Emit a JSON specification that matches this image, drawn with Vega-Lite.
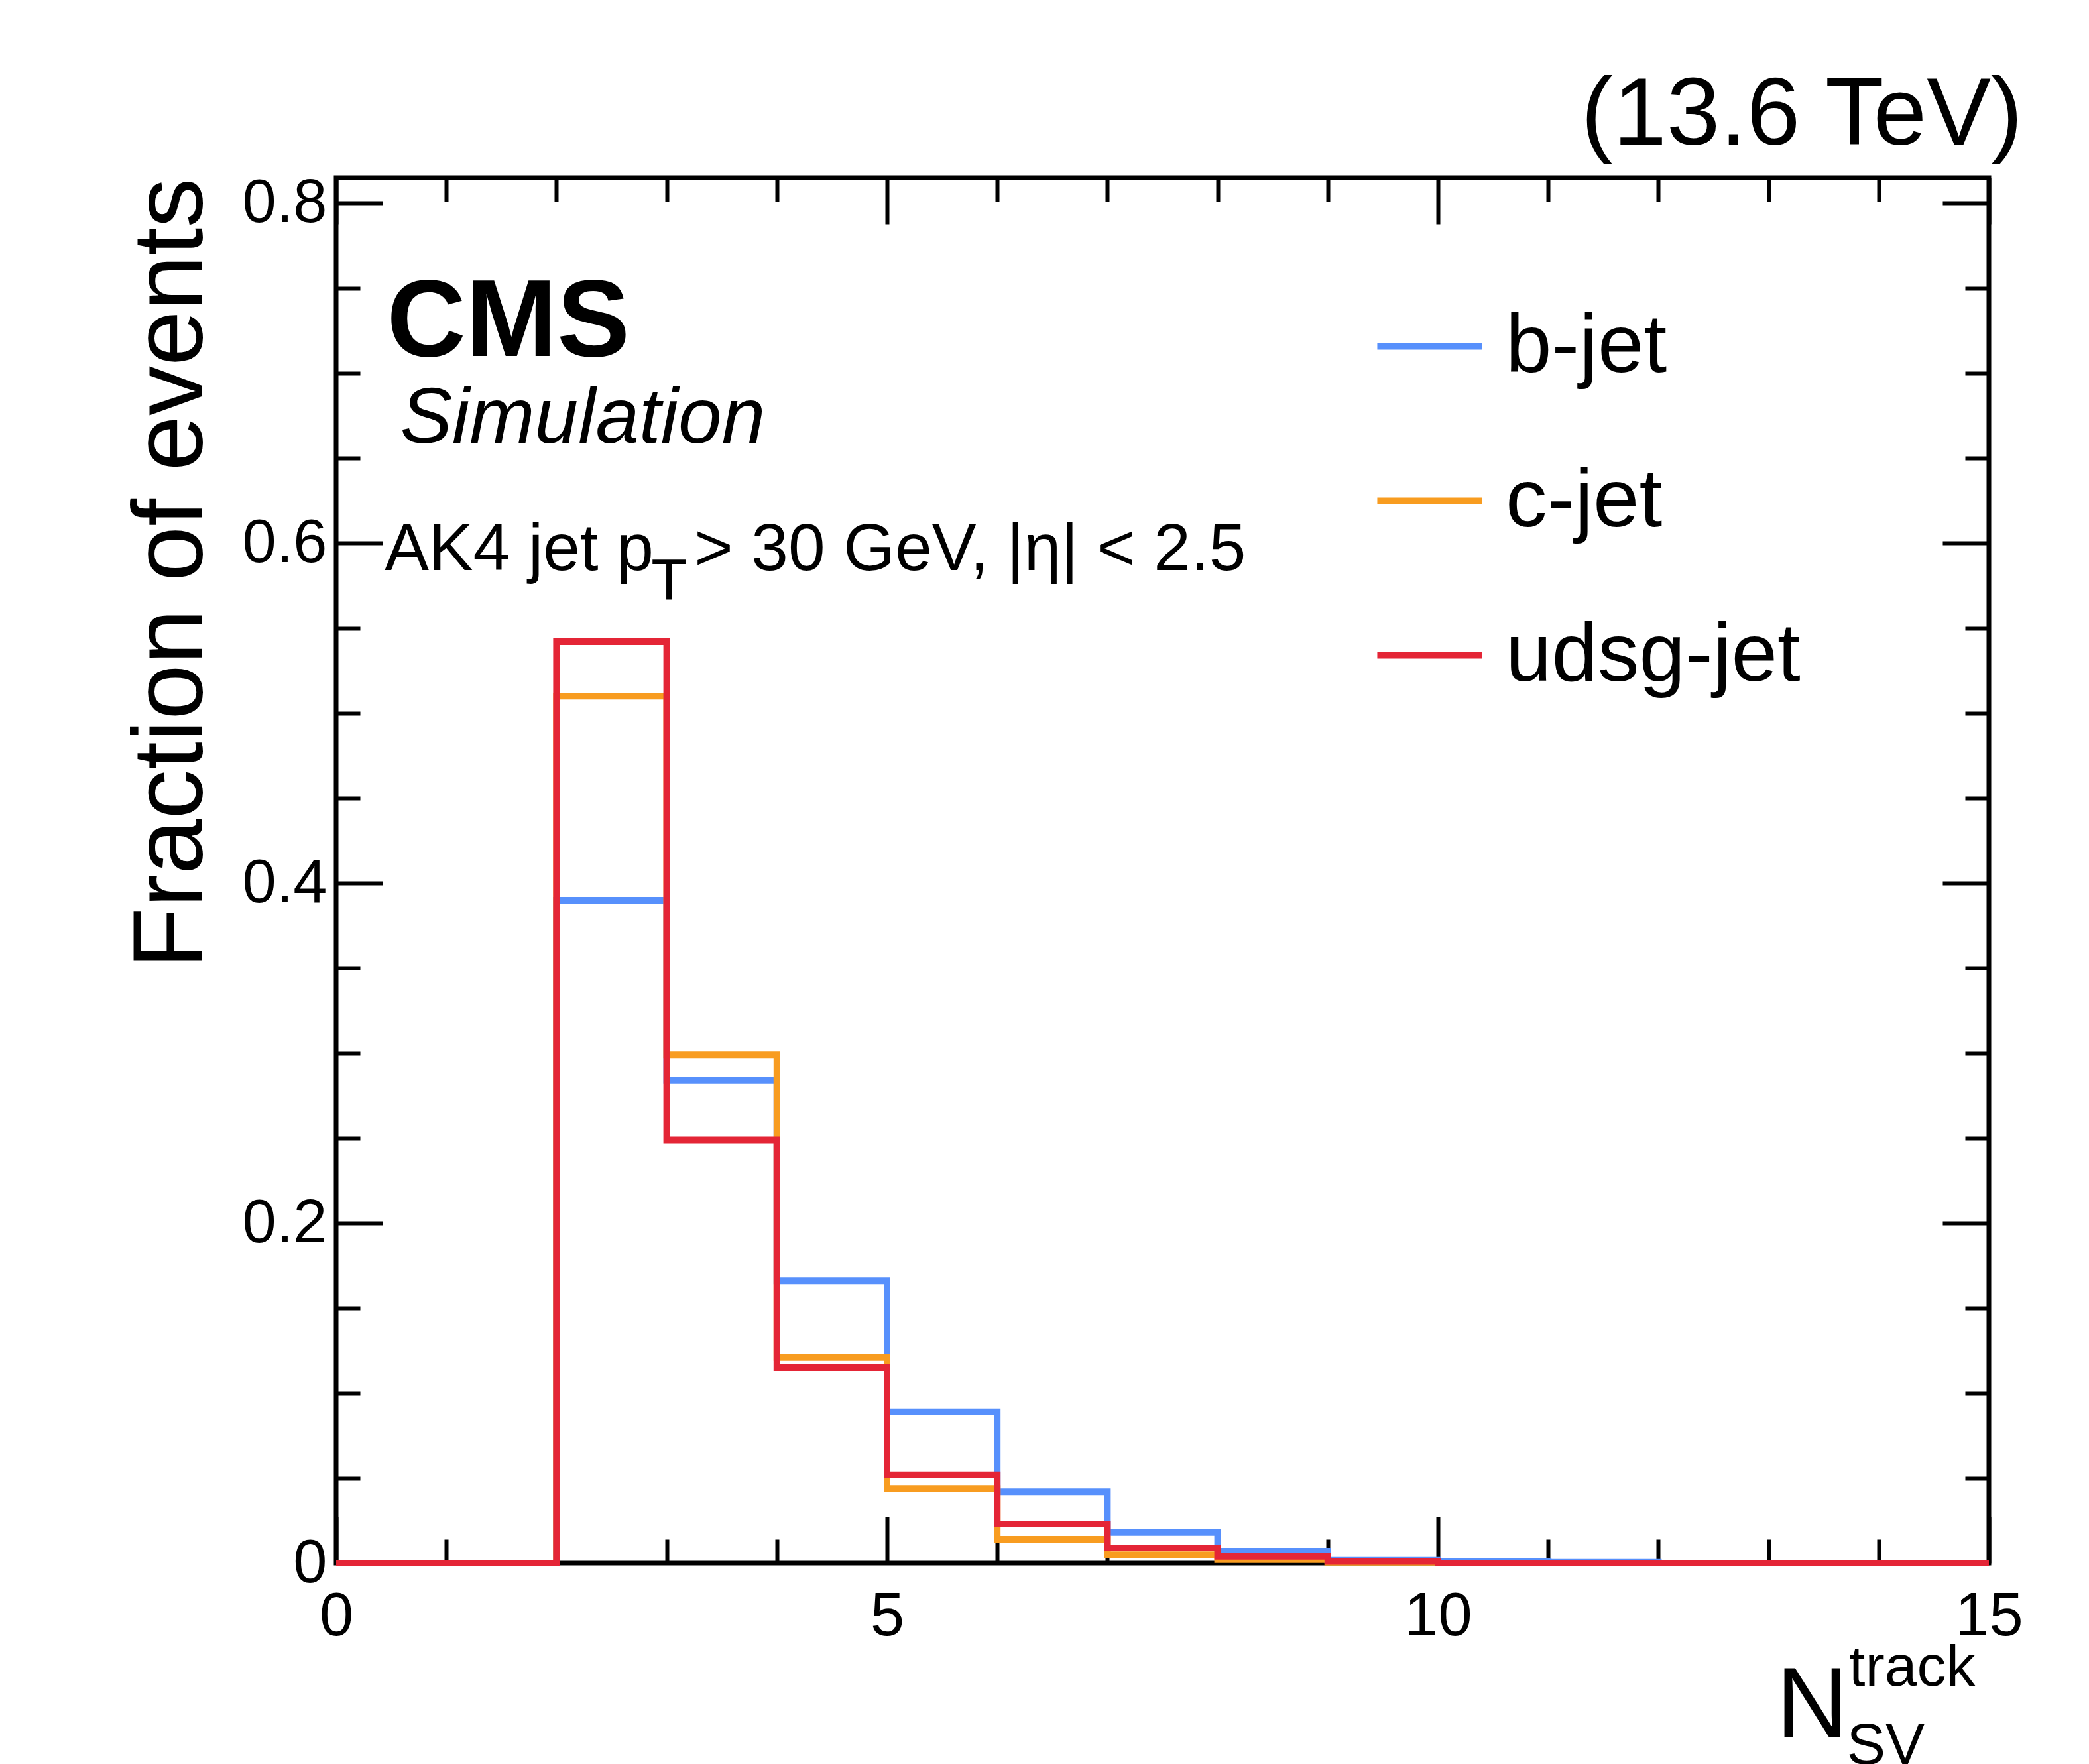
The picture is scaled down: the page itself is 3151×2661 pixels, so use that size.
{
  "$schema": "https://vega.github.io/schema/vega-lite/v6.json",
  "width": 2493,
  "height": 2090,
  "autosize": {"type": "none"},
  "padding": {"left": 507, "top": 268, "right": 151, "bottom": 303},
  "background": "white",
  "config": {
    "font": "Liberation Sans",
    "view": {"stroke": "black", "strokeWidth": 7},
    "axis": {"grid": false, "domain": false, "tickColor": "black", "tickWidth": 6, "labelColor": "black", "labelFont": "Liberation Sans", "labelFontSize": 92, "titleColor": "black"}
  },
  "title": {"text": "(13.6 TeV)", "anchor": "end", "fontSize": 145, "fontWeight": "normal", "font": "Liberation Sans", "offset": 12},
  "datasets": {
    "hist": [
      {"series": "b-jet", "x": 0, "y": 0}, {"series": "b-jet", "x": 1, "y": 0}, {"series": "b-jet", "x": 2, "y": 0.39},
      {"series": "b-jet", "x": 3, "y": 0.284}, {"series": "b-jet", "x": 4, "y": 0.166}, {"series": "b-jet", "x": 5, "y": 0.089},
      {"series": "b-jet", "x": 6, "y": 0.042}, {"series": "b-jet", "x": 7, "y": 0.018}, {"series": "b-jet", "x": 8, "y": 0.007},
      {"series": "b-jet", "x": 9, "y": 0.002}, {"series": "b-jet", "x": 10, "y": 0.001}, {"series": "b-jet", "x": 11, "y": 0.0005},
      {"series": "b-jet", "x": 12, "y": 0}, {"series": "b-jet", "x": 13, "y": 0}, {"series": "b-jet", "x": 14, "y": 0}, {"series": "b-jet", "x": 15, "y": 0},
      {"series": "c-jet", "x": 0, "y": 0}, {"series": "c-jet", "x": 1, "y": 0}, {"series": "c-jet", "x": 2, "y": 0.51},
      {"series": "c-jet", "x": 3, "y": 0.299}, {"series": "c-jet", "x": 4, "y": 0.121}, {"series": "c-jet", "x": 5, "y": 0.044},
      {"series": "c-jet", "x": 6, "y": 0.014}, {"series": "c-jet", "x": 7, "y": 0.005}, {"series": "c-jet", "x": 8, "y": 0.002},
      {"series": "c-jet", "x": 9, "y": 0.0005}, {"series": "c-jet", "x": 10, "y": 0}, {"series": "c-jet", "x": 11, "y": 0},
      {"series": "c-jet", "x": 12, "y": 0}, {"series": "c-jet", "x": 13, "y": 0}, {"series": "c-jet", "x": 14, "y": 0}, {"series": "c-jet", "x": 15, "y": 0},
      {"series": "udsg-jet", "x": 0, "y": 0}, {"series": "udsg-jet", "x": 1, "y": 0}, {"series": "udsg-jet", "x": 2, "y": 0.542},
      {"series": "udsg-jet", "x": 3, "y": 0.249}, {"series": "udsg-jet", "x": 4, "y": 0.115}, {"series": "udsg-jet", "x": 5, "y": 0.052},
      {"series": "udsg-jet", "x": 6, "y": 0.023}, {"series": "udsg-jet", "x": 7, "y": 0.009}, {"series": "udsg-jet", "x": 8, "y": 0.004},
      {"series": "udsg-jet", "x": 9, "y": 0.001}, {"series": "udsg-jet", "x": 10, "y": 0}, {"series": "udsg-jet", "x": 11, "y": 0},
      {"series": "udsg-jet", "x": 12, "y": 0}, {"series": "udsg-jet", "x": 13, "y": 0}, {"series": "udsg-jet", "x": 14, "y": 0}, {"series": "udsg-jet", "x": 15, "y": 0}
    ],
    "labels": [
      {"text": "CMS", "x": 0.46, "y": 0.71, "kind": "cms"},
      {"text": "Simulation", "x": 0.58, "y": 0.659, "kind": "sim"},
      {"text": "AK4 jet p", "x": 0.44, "y": 0.584, "kind": "note"},
      {"text": "T", "x": 2.86, "y": 0.567, "kind": "sub"},
      {"text": "> 30 GeV, |η| < 2.5", "x": 3.25, "y": 0.584, "kind": "note"},
      {"text": "N", "x": 13.07, "y": -0.102, "kind": "big"},
      {"text": "track", "x": 13.73, "y": -0.072, "kind": "small"},
      {"text": "SV", "x": 13.71, "y": -0.118, "kind": "small"}
    ]
  },
  "resolve": {"axis": {"x": "independent", "y": "independent"}},
  "layer": [
    {
      "data": {"name": "hist"},
      "mark": {"type": "line", "interpolate": "step-after", "strokeWidth": 10},
      "encoding": {
        "x": {"field": "x", "type": "quantitative", "scale": {"domain": [0, 15], "nice": false},
          "axis": {"orient": "bottom", "values": [0, 5, 10, 15], "tickSize": -70, "labelPadding": 105, "title": null, "labelFlush": false}},
        "y": {"field": "y", "type": "quantitative", "scale": {"domain": [0, 0.815], "nice": false},
          "axis": {"orient": "left", "values": [0, 0.2, 0.4, 0.6, 0.8], "format": "~g", "tickSize": -70, "labelPadding": 84, "title": "Fraction of events", "titleFontSize": 150, "titleFontWeight": "normal", "titlePadding": 30, "titleAnchor": "end", "labelFlush": false}},
        "color": {"field": "series", "type": "nominal",
          "scale": {"domain": ["b-jet", "c-jet", "udsg-jet"], "range": ["#5790fc", "#f89c20", "#e42536"]},
          "legend": {"orient": "none", "legendX": 1565, "legendY": 170, "title": null, "symbolType": "stroke", "symbolStrokeWidth": 10, "symbolSize": 25000, "labelFontSize": 125, "labelColor": "black", "labelOffset": 30, "labelLimit": 2000, "rowPadding": 85, "labelFont": "Liberation Sans"}}
      }
    },
    {
      "data": {"name": "hist"},
      "mark": {"type": "line", "opacity": 0},
      "encoding": {
        "x": {"field": "x", "type": "quantitative", "scale": {"domain": [0, 15], "nice": false},
          "axis": {"orient": "bottom", "values": [1, 2, 3, 4, 6, 7, 8, 9, 11, 12, 13, 14], "tickSize": -36, "labels": false, "title": null}},
        "y": {"field": "y", "type": "quantitative", "scale": {"domain": [0, 0.815], "nice": false},
          "axis": {"orient": "left", "values": [0.05, 0.1, 0.15, 0.25, 0.3, 0.35, 0.45, 0.5, 0.55, 0.65, 0.7, 0.75], "tickSize": -36, "labels": false, "title": null}}
      }
    },
    {
      "data": {"name": "hist"},
      "mark": {"type": "line", "opacity": 0},
      "encoding": {
        "x": {"field": "x", "type": "quantitative", "scale": {"domain": [0, 15], "nice": false},
          "axis": {"orient": "top", "values": [0, 5, 10, 15], "tickSize": -70, "labels": false, "title": null}},
        "y": {"field": "y", "type": "quantitative", "scale": {"domain": [0, 0.815], "nice": false},
          "axis": {"orient": "right", "values": [0, 0.2, 0.4, 0.6, 0.8], "tickSize": -70, "labels": false, "title": null}}
      }
    },
    {
      "data": {"name": "hist"},
      "mark": {"type": "line", "opacity": 0},
      "encoding": {
        "x": {"field": "x", "type": "quantitative", "scale": {"domain": [0, 15], "nice": false},
          "axis": {"orient": "top", "values": [1, 2, 3, 4, 6, 7, 8, 9, 11, 12, 13, 14], "tickSize": -36, "labels": false, "title": null}},
        "y": {"field": "y", "type": "quantitative", "scale": {"domain": [0, 0.815], "nice": false},
          "axis": {"orient": "right", "values": [0.05, 0.1, 0.15, 0.25, 0.3, 0.35, 0.45, 0.5, 0.55, 0.65, 0.7, 0.75], "tickSize": -36, "labels": false, "title": null}}
      }
    },
    {
      "data": {"name": "labels"},
      "transform": [{"filter": "datum.kind == 'cms'"}],
      "mark": {"type": "text", "align": "left", "baseline": "alphabetic", "fontSize": 165, "fontWeight": "bold", "color": "black"},
      "encoding": {
        "x": {"field": "x", "type": "quantitative", "scale": {"domain": [0, 15], "nice": false}, "axis": null},
        "y": {"field": "y", "type": "quantitative", "scale": {"domain": [0, 0.815], "nice": false}, "axis": null},
        "text": {"field": "text"}
      }
    },
    {
      "data": {"name": "labels"},
      "transform": [{"filter": "datum.kind == 'sim'"}],
      "mark": {"type": "text", "align": "left", "baseline": "alphabetic", "fontSize": 118, "fontStyle": "italic", "color": "black"},
      "encoding": {
        "x": {"field": "x", "type": "quantitative", "scale": {"domain": [0, 15], "nice": false}, "axis": null},
        "y": {"field": "y", "type": "quantitative", "scale": {"domain": [0, 0.815], "nice": false}, "axis": null},
        "text": {"field": "text"}
      }
    },
    {
      "data": {"name": "labels"},
      "transform": [{"filter": "datum.kind == 'note'"}],
      "mark": {"type": "text", "align": "left", "baseline": "alphabetic", "fontSize": 100, "color": "black"},
      "encoding": {
        "x": {"field": "x", "type": "quantitative", "scale": {"domain": [0, 15], "nice": false}, "axis": null},
        "y": {"field": "y", "type": "quantitative", "scale": {"domain": [0, 0.815], "nice": false}, "axis": null},
        "text": {"field": "text"}
      }
    },
    {
      "data": {"name": "labels"},
      "transform": [{"filter": "datum.kind == 'sub' || datum.kind == 'small'"}],
      "mark": {"type": "text", "align": "left", "baseline": "alphabetic", "fontSize": 88, "color": "black"},
      "encoding": {
        "x": {"field": "x", "type": "quantitative", "scale": {"domain": [0, 15], "nice": false}, "axis": null},
        "y": {"field": "y", "type": "quantitative", "scale": {"domain": [0, 0.815], "nice": false}, "axis": null},
        "text": {"field": "text"}
      }
    },
    {
      "data": {"name": "labels"},
      "transform": [{"filter": "datum.kind == 'big'"}],
      "mark": {"type": "text", "align": "left", "baseline": "alphabetic", "fontSize": 150, "color": "black"},
      "encoding": {
        "x": {"field": "x", "type": "quantitative", "scale": {"domain": [0, 15], "nice": false}, "axis": null},
        "y": {"field": "y", "type": "quantitative", "scale": {"domain": [0, 0.815], "nice": false}, "axis": null},
        "text": {"field": "text"}
      }
    }
  ]
}
